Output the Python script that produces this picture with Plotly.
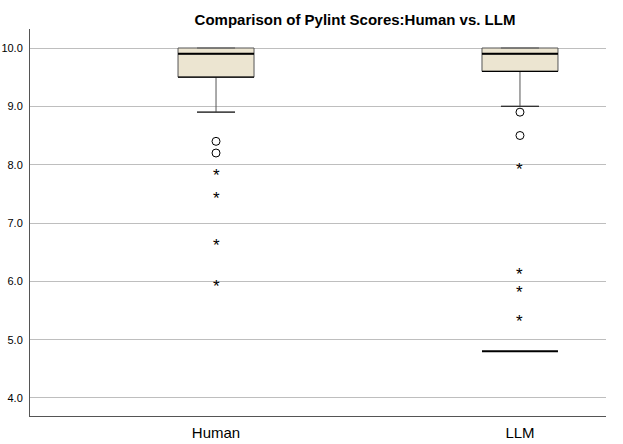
import plotly.graph_objects as go

categories = ["Human", "LLM"]
cat_pos = [0, 1]
q1 = [9.5, 9.6]
median = [9.9, 9.9]
q3 = [10.0, 10.0]
lower_whisker = [8.9, 9.0]
upper_whisker = [10.0, 10.0]
human_outliers = [8.4, 8.2]
human_extremes = [7.9, 7.5, 6.7, 6.0]
llm_outliers = [8.9, 8.5]
llm_extremes = [8.0, 6.2, 5.9, 5.4]
llm_flat_line = [4.8]
y_ticks = [4.0, 5.0, 6.0, 7.0, 8.0, 9.0, 10.0]

BOX_W = 0.25
CAP_W = 0.125
FONT = "Arial, Liberation Sans, sans-serif"
W, H = 623, 444

fig = go.Figure()

for i, c in enumerate(categories):
    x = cat_pos[i]
    fig.add_trace(go.Box(
        x=[x], q1=[q1[i]], median=[median[i]], q3=[q3[i]],
        lowerfence=[lower_whisker[i]], upperfence=[upper_whisker[i]],
        width=BOX_W, fillcolor="#ECE5D1", line=dict(color="#555555", width=1),
        boxpoints=False, hoverinfo="skip", showlegend=False,
    ))
    fig.add_trace(go.Scatter(
        x=[x - BOX_W / 2, x + BOX_W / 2], y=[median[i], median[i]],
        mode="lines", line=dict(color="black", width=2), showlegend=False, hoverinfo="skip",
    ))
    fig.add_trace(go.Scatter(
        x=[x - BOX_W / 2, x + BOX_W / 2], y=[q1[i], q1[i]],
        mode="lines", line=dict(color="black", width=1.2), showlegend=False, hoverinfo="skip",
    ))
    fig.add_trace(go.Scatter(
        x=[x - CAP_W / 2, x + CAP_W / 2], y=[lower_whisker[i], lower_whisker[i]],
        mode="lines", line=dict(color="#333333", width=1.2), showlegend=False, hoverinfo="skip",
    ))

for x, vals in [(cat_pos[0], human_outliers), (cat_pos[1], llm_outliers)]:
    fig.add_trace(go.Scatter(
        x=[x] * len(vals), y=vals, mode="markers",
        marker=dict(symbol="circle-open", size=8, color="black", line=dict(width=1)),
        showlegend=False, hoverinfo="skip",
    ))

for x, vals in [(cat_pos[0], human_extremes), (cat_pos[1], llm_extremes)]:
    for v in vals:
        fig.add_annotation(x=x, y=v, text="*", showarrow=False,
                           font=dict(family=FONT, size=17, color="black"),
                           yshift=-5)

fig.add_trace(go.Scatter(
    x=[cat_pos[1] - BOX_W / 2, cat_pos[1] + BOX_W / 2], y=[llm_flat_line[0]] * 2,
    mode="lines", line=dict(color="black", width=2), showlegend=False, hoverinfo="skip",
))

fig.update_layout(
    width=W, height=H,
    margin=dict(l=30, r=17, t=29, b=28, autoexpand=False),
    paper_bgcolor="white", plot_bgcolor="white",
    title=dict(text="<b>Comparison of Pylint Scores:Human vs. LLM</b>",
               x=355 / W, xanchor="center", y=1 - 20 / H, yanchor="middle",
               font=dict(family=FONT, size=15, color="black"), automargin=False),
    font=dict(family=FONT, color="black"),
)
fig.update_xaxes(
    range=[-0.612, 1.283], tickvals=cat_pos, ticktext=categories, automargin=False,
    showgrid=False, zeroline=False, showline=True, linecolor="#555555", linewidth=1,
    ticks="", ticklabelstandoff=3, tickfont=dict(size=15, family=FONT, color="black"),
)
fig.update_yaxes(
    range=[3.691, 10.326], tickvals=y_ticks, ticktext=[f"{t:.1f}" for t in y_ticks],
    automargin=False,
    showgrid=True, gridcolor="#BEBEBE", gridwidth=1, zeroline=False,
    showline=True, linecolor="#555555", linewidth=1, ticks="", ticklabelstandoff=4,
    tickfont=dict(size=11, family=FONT, color="black"),
)

fig.write_html(
    "out.html",
    config={"displayModeBar": False},
    post_script="document.body.style.margin='0';document.body.style.overflow='hidden';",
)
